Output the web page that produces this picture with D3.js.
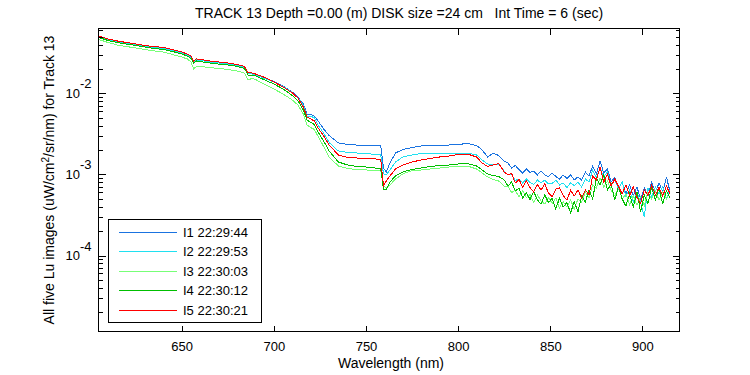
<!DOCTYPE html>
<html><head><meta charset="utf-8">
<script src="https://cdn.jsdelivr.net/npm/d3@7"></script>
<style>
body{margin:0;background:#fff}
svg text{font-family:"Liberation Sans",Arial,Helvetica,sans-serif;fill:#000}
</style>
</head><body><svg id="c" width="750" height="375"></svg>
<script>
// values are in units of 1e-3 uW/cm^2/sr/nm
const UNIT = 1e-3;
const wavelengths = [605,610,615,620,625,630,635,640,645,650,
653,655,656.5,658,660,665,670,675,680,684,
686,688,690,695,700,705,710,713,716,718,
720,722,724,727,730,735,740,745,750,755,
758,759.5,761,763,766,770,775,780,785,790,
795,800,805,810,813,816,819,822,825,
827,829,831,833,835,837,839,841,843,845,847,849,851,853,855,857,859,861,863,865,867,869,871,873,875,877,879,881,883,885,887,889,891,893,895,897,899,901,903,905,907,909,911,913,915];

const luI1 = [49.8,46.4,43.9,42.0,40.3,38.6,37.5,36.4,34.4,32.1,
30.3,28.2,24.8,26.3,25.9,24.8,24.1,23.5,22.5,21.2,
17.7,17.7,17.2,15.5,14.07,12.38,10.44,9.05,7.42,5.58,
5.51,5.27,4.58,3.65,3.03,2.45,2.35,2.31,2.31,2.28,
2.25,1.203,1.074,1.387,1.843,2.035,2.155,2.25,2.28,2.31,
2.31,2.35,2.41,2.28,2.01,1.645,1.84,1.716,1.468,
1.387,1.203,1.292,1.153,1.044,1.169,1.059,1.105,0.986,1.105,0.986,0.945,1.044,0.945,0.880,0.986,0.893,0.986,0.855,0.932,0.855,1.074,0.958,1.273,1.015,1.468,1.044,1.169,0.808,0.932,0.662,0.808,0.575,0.742,0.543,0.701,0.498,0.681,0.543,0.808,0.608,0.785,0.608,0.932,0.608];

const luI2 = [49.8,45.8,43.2,41.4,39.7,38.0,37.0,35.9,34.0,31.6,
29.9,27.8,24.5,25.9,25.6,24.5,23.8,23.1,22.2,20.9,
17.4,17.4,16.9,15.3,13.87,12.21,10.29,8.93,7.11,5.27,
5.27,4.98,4.08,3.25,2.48,1.951,1.870,1.843,1.817,1.766,
1.741,1.015,0.986,1.137,1.427,1.645,1.741,1.817,1.84,1.79,
1.82,1.84,1.84,1.741,1.51,1.348,1.329,1.348,1.105,
0.986,1.000,0.843,0.880,0.785,0.880,0.797,0.753,0.855,0.785,0.855,0.763,0.774,0.855,0.742,0.785,0.691,0.785,0.732,0.808,0.701,0.880,0.808,1.137,0.905,1.203,0.932,1.074,0.742,0.855,0.662,0.808,0.543,0.644,0.458,0.608,0.458,0.299,0.681,0.528,0.701,0.575,0.701,0.506,0.644];

const luI3 = [46.4,42.6,39.7,38.0,36.4,34.9,33.5,32.5,30.3,28.2,
26.7,24.5,20.1,21.6,21.6,20.9,20.4,19.8,19.0,17.9,
14.7,15.3,14.9,12.9,11.37,9.86,8.31,7.21,5.58,4.08,
3.80,3.59,2.95,2.22,1.645,1.273,1.186,1.153,1.137,1.121,
1.105,0.721,0.681,0.742,0.880,1.015,1.121,1.137,1.169,1.203,
1.238,1.255,1.273,1.169,1.044,0.932,0.868,0.831,0.721,
0.721,0.600,0.635,0.528,0.626,0.520,0.566,0.451,0.558,0.471,0.432,0.520,0.439,0.513,0.386,0.464,0.397,0.484,0.375,0.498,0.458,0.608,0.513,0.742,0.681,0.905,0.701,0.831,0.644,0.543,0.691,0.498,0.575,0.420,0.543,0.420,0.528,0.414,0.608,0.498,0.626,0.484,0.617,0.498,0.608];

const luI4 = [49.1,45.1,42.6,40.8,39.1,37.5,35.9,34.9,33.0,30.7,
29.0,27.1,23.8,25.2,24.8,23.8,23.1,22.5,21.6,20.4,
16.9,16.9,16.5,14.68,13.10,11.37,9.45,8.20,6.26,4.71,
4.39,4.14,3.35,2.59,1.951,1.427,1.310,1.255,1.238,1.203,
1.186,0.644,0.644,0.808,0.958,1.074,1.153,1.203,1.255,1.292,
1.310,1.348,1.367,1.273,1.137,1.015,0.972,0.945,0.855,
0.721,0.808,0.626,0.681,0.513,0.600,0.491,0.617,0.484,0.432,0.558,0.451,0.506,0.375,0.513,0.397,0.451,0.335,0.464,0.344,0.543,0.458,0.644,0.498,0.905,0.742,1.000,0.644,0.763,0.484,0.711,0.498,0.408,0.575,0.397,0.608,0.344,0.558,0.439,0.701,0.484,0.681,0.432,0.635,0.513];

const luI5 = [51.3,47.1,44.5,42.6,40.8,39.1,38.0,37.0,34.9,32.5,
30.7,29.0,25.2,26.7,26.3,25.2,24.5,23.8,22.8,21.6,
17.9,17.9,17.4,15.77,13.87,12.04,10.15,8.80,6.81,5.13,
4.84,4.58,3.75,2.99,2.31,1.741,1.622,1.599,1.576,1.554,
1.532,0.721,0.831,0.958,1.169,1.310,1.427,1.510,1.576,1.645,
1.692,1.766,1.79,1.645,1.387,1.255,1.310,1.367,1.074,
0.986,1.029,0.785,0.868,0.701,0.831,0.691,0.608,0.753,0.644,0.763,0.591,0.535,0.662,0.681,0.551,0.484,0.635,0.543,0.644,0.513,0.644,0.558,0.958,0.855,1.238,0.808,1.000,0.721,0.880,0.711,0.575,0.742,0.543,0.701,0.520,0.439,0.644,0.551,0.742,0.558,0.691,0.543,0.721,0.575];

const seriesNames = ["I1 22:29:44","I2 22:29:53","I3 22:30:03","I4 22:30:12","I5 22:30:21"];
const seriesColors = ["#1a73e0","#20e0f0","#77ff77","#00bf00","#ff0000"];
const xTicks = [650,700,750,800,850,900];
const yDecades = [-4,-3,-2];
const titleText = "TRACK 13 Depth =0.00 (m) DISK size =24 cm   Int Time = 6 (sec)";
const xLabel = "Wavelength (nm)";

const series = [luI1,luI2,luI3,luI4,luI5].map((v,i)=>({name:seriesNames[i],color:seriesColors[i],values:v}));

const L=98.5, R=679.5, T=28.5, B=331.5;
const x = d3.scaleLinear().domain([604.86,920.1]).range([L,R]);
const y = d3.scaleLog().domain([Math.pow(10,-4.938),Math.pow(10,-1.198)]).range([B,T]);

const svg = d3.select("#c");

// data lines
const line = d3.line().x((d,i)=>x(wavelengths[i])).y(d=>y(d*UNIT));
const gl = svg.append("g");
series.forEach(s=>{
  gl.append("path").attr("d",line(s.values)).attr("fill","none")
    .attr("stroke",s.color).attr("stroke-width",1).attr("shape-rendering","crispEdges");
});

// axes
const majorY = yDecades.map(k=>Math.pow(10,k));
const minorY = [];
for(let k=-5;k<=-2;k++) for(let m=2;m<=9;m++){const v=m*Math.pow(10,k); if(v>y.domain()[0]&&v<y.domain()[1]) minorY.push(v);}

function styleAxis(g){
  g.select(".domain").remove();
  g.selectAll("line").attr("stroke","#000").attr("shape-rendering","crispEdges");
  g.selectAll("text").attr("font-size",13).attr("font-family",'"Liberation Sans",Arial,sans-serif').attr("fill","#000");
}
svg.append("g").attr("transform",`translate(0,${B})`)
  .call(d3.axisBottom(x).tickValues(xTicks).tickSize(-6).tickSizeOuter(0).tickPadding(10.5)).call(styleAxis);
svg.append("g").attr("transform",`translate(0,${T})`)
  .call(d3.axisTop(x).tickValues(xTicks).tickSize(-6).tickSizeOuter(0).tickFormat("")).call(styleAxis);
svg.append("g").attr("transform",`translate(${L},0)`)
  .call(d3.axisLeft(y).tickValues(majorY).tickSize(-7).tickSizeOuter(0).tickFormat("")).call(styleAxis);
svg.append("g").attr("transform",`translate(${L},0)`)
  .call(d3.axisLeft(y).tickValues(minorY).tickSize(-4).tickSizeOuter(0).tickFormat("")).call(styleAxis);
svg.append("g").attr("transform",`translate(${R},0)`)
  .call(d3.axisRight(y).tickValues(majorY).tickSize(-7).tickSizeOuter(0).tickFormat("")).call(styleAxis);
svg.append("g").attr("transform",`translate(${R},0)`)
  .call(d3.axisRight(y).tickValues(minorY).tickSize(-4).tickSizeOuter(0).tickFormat("")).call(styleAxis);

// y tick labels 10^k
const yl = svg.append("g");
yDecades.forEach(k=>{
  const yy = y(Math.pow(10,k));
  yl.append("text").attr("x",80).attr("y",yy+4.5).attr("text-anchor","end").attr("font-size",13).text("10");
  yl.append("text").attr("x",80).attr("y",yy-5).attr("text-anchor","start").attr("font-size",13).text("-"+Math.abs(k));
});

// box
svg.append("rect").attr("x",L).attr("y",T).attr("width",R-L).attr("height",B-T)
  .attr("fill","none").attr("stroke","#000").attr("shape-rendering","crispEdges");

// title & labels
svg.append("text").attr("x",195).attr("y",18).attr("text-anchor","start").attr("font-size",14)
  .style("white-space","pre").text(titleText);
svg.append("text").attr("x",391).attr("y",368).attr("text-anchor","middle").attr("font-size",14).text(xLabel);
const yt = svg.append("text").attr("transform",`translate(53.5,${(T+B)/2}) rotate(-90)`).attr("text-anchor","middle").attr("font-size",14);
yt.append("tspan").text("All five Lu images (uW/cm");
yt.append("tspan").attr("dy",-5).attr("font-size",10).text("2");
yt.append("tspan").attr("dy",5).text("/sr/nm) for Track 13");

// legend
const lg = svg.append("g");
const lx=108.5, ly=219.5, lw=153, lh=103, rowH=19.5;
lg.append("rect").attr("x",lx).attr("y",ly).attr("width",lw).attr("height",lh)
  .attr("fill","#fff").attr("stroke","#000").attr("shape-rendering","crispEdges");
series.forEach((s,i)=>{
  const ry = 231.5 + i*rowH;
  lg.append("line").attr("x1",119).attr("x2",177).attr("y1",Math.round(ry)+0.5).attr("y2",Math.round(ry)+0.5)
    .attr("stroke",s.color).attr("stroke-width",1).attr("shape-rendering","crispEdges");
  lg.append("text").attr("x",183).attr("y",ry+5).attr("font-size",13).text(s.name);
});
</script>
</body></html>
